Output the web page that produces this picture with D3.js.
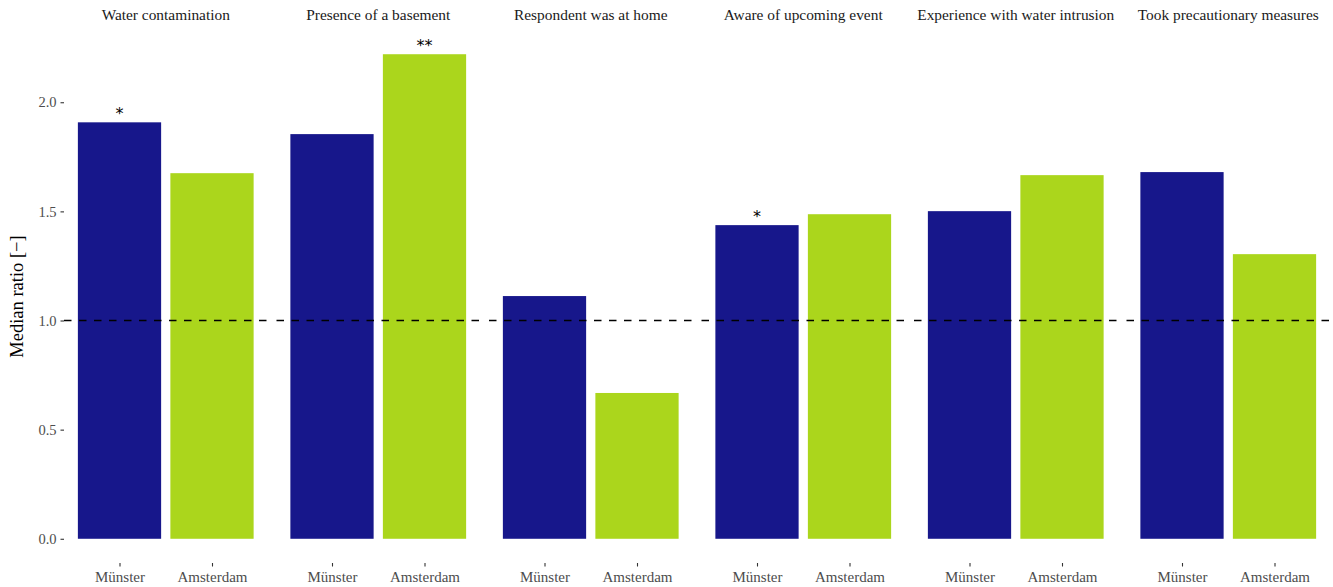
<!DOCTYPE html>
<html><head><meta charset="utf-8">
<script src="https://cdnjs.cloudflare.com/ajax/libs/d3/7.8.5/d3.min.js"></script>
<style>body{margin:0;background:#fff}svg{display:block}</style>
</head><body>
<svg id="c" width="1333" height="587"></svg>
<script>
const facets = ["Water contamination","Presence of a basement","Respondent was at home","Aware of upcoming event","Experience with water intrusion","Took precautionary measures"];
const cities = ["Münster","Amsterdam"];
const munster = [1.908, 1.854, 1.112, 1.437, 1.501, 1.680];
const amsterdam = [1.675, 2.220, 0.668, 1.487, 1.666, 1.304];
const signifMunster = ["*", "", "", "*", "", ""];
const signifAmsterdam = ["", "**", "", "", "", ""];
const yTicks = [0, 0.5, 1.0, 1.5, 2.0];
const refLine = 1.0;
const colors = {"Münster":"#17178b","Amsterdam":"#abd61c"};

(function(){
const svg = d3.select("#c");
const font = "'Liberation Serif','Times New Roman',serif";
const panelLeft = 64, panelStep = 212.5, panelW = 203.5;
const pTop = 30, pBottom = 563;
const yMax = d3.max(munster.concat(amsterdam));
const y = d3.scaleLinear().domain([-yMax*0.05, yMax*1.05]).range([pBottom, pTop]);

const ya = svg.append("g").attr("transform", `translate(${panelLeft},0)`)
  .call(d3.axisLeft(y).tickValues(yTicks).tickFormat(d3.format(".1f")).tickSize(3.5).tickPadding(4));
ya.select(".domain").remove();
ya.selectAll("line").attr("stroke","#333").attr("stroke-width",1.1);
ya.selectAll("text").attr("font-family",font).attr("font-size",14.5).attr("fill","#4d4d4d");

svg.append("text").attr("transform",`translate(23,${(pTop+pBottom)/2}) rotate(-90)`)
  .attr("text-anchor","middle").attr("font-family",font).attr("font-size",18.5).attr("fill","#000")
  .text("Median ratio [−]");

facets.forEach((f,i)=>{
  const x0 = panelLeft + i*panelStep;
  const xc = d3.scaleLinear().domain([0.4,2.6]).range([x0, x0+panelW]);
  const g = svg.append("g");
  const vals = [munster[i], amsterdam[i]];
  const sig = [signifMunster[i], signifAmsterdam[i]];
  const unit = xc(1)-xc(0);
  cities.forEach((c,j)=>{
    const cx = xc(j+1);
    g.append("rect").attr("x", cx-0.45*unit).attr("width", 0.9*unit)
      .attr("y", y(vals[j])).attr("height", y(0)-y(vals[j])).attr("fill", colors[c]);
    if (sig[j]) g.append("text").attr("x",cx).attr("y",y(vals[j])-3).attr("text-anchor","middle")
      .attr("font-family","'DejaVu Sans',sans-serif").attr("font-size",16).attr("fill","#000").text(sig[j]);
  });
  g.append("line").attr("x1",x0).attr("x2",x0+panelW).attr("y1",y(refLine)).attr("y2",y(refLine))
    .attr("stroke","#000").attr("stroke-width",1.7).attr("stroke-dasharray","7.5,7.5");
  const xa = svg.append("g").attr("transform",`translate(0,${pBottom})`)
    .call(d3.axisBottom(d3.scalePoint().domain(cities).range([xc(1),xc(2)])).tickSize(3.5).tickPadding(5));
  xa.select(".domain").remove();
  xa.selectAll("line").attr("stroke","#333").attr("stroke-width",1.1);
  xa.selectAll("text").attr("font-family",font).attr("font-size",15).attr("fill","#4d4d4d");
  svg.append("text").attr("x", x0+panelW/2).attr("y",20).attr("text-anchor","middle")
    .attr("font-family",font).attr("font-size",15.4).attr("fill","#1a1a1a").text(f);
});
})();
</script>
</body></html>
